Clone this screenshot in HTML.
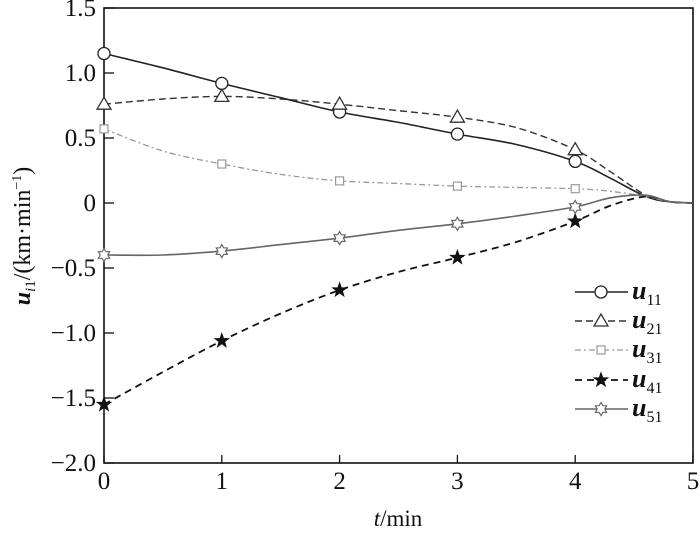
<!DOCTYPE html>
<html><head><meta charset="utf-8"><style>
body{margin:0;background:#fff}
svg text{font-family:"Liberation Serif","Times New Roman",serif;fill:#111}
</style></head><body>
<svg id="chart" width="700" height="532" xmlns="http://www.w3.org/2000/svg" font-family="Liberation Serif, serif"></svg>
<script>
const tSamples=[0,0.5,1,1.5,2,2.5,3,3.5,4,4.3,4.6,4.8,5];
const u11=[1.15,1.04,0.92,0.81,0.70,0.62,0.53,0.45,0.32,0.19,0.05,0.01,0];
const u21=[0.76,0.80,0.82,0.80,0.76,0.71,0.66,0.58,0.41,0.24,0.06,0.01,0];
const u31=[0.57,0.40,0.30,0.22,0.17,0.15,0.13,0.12,0.11,0.09,0.05,0.01,0];
const u41=[-1.55,-1.30,-1.06,-0.85,-0.67,-0.53,-0.42,-0.30,-0.14,-0.02,0.05,0.01,0];
const u51=[-0.40,-0.40,-0.37,-0.32,-0.27,-0.21,-0.16,-0.10,-0.03,0.04,0.06,0.01,0];
const xTicks=[0,1,2,3,4,5];
const yTicks=[1.5,1.0,0.5,0,-0.5,-1.0,-1.5,-2.0];
const yTickLabels=["1.5","1.0","0.5","0","\u22120.5","\u22121.0","\u22121.5","\u22122.0"];
const seriesNames=["11","21","31","41","51"];

const NS="http://www.w3.org/2000/svg";
const svg=document.getElementById('chart');
const X0=104,X1=693,Y0=8,Y1=463;
const FF='"Liberation Serif","Times New Roman",serif';
const x=t=>X0+(t-0)/(5-0)*(X1-X0);
const y=v=>Y0+(1.5-v)/(3.5)*(Y1-Y0);
function mk(tag,attrs,parent){const e=document.createElementNS(NS,tag);for(const k in attrs)e.setAttribute(k,attrs[k]);if(tag==='text')e.style.fontFamily=FF;(parent||svg).appendChild(e);return e;}

const frame=mk('rect',{x:X0,y:Y0,width:X1-X0,height:Y1-Y0,fill:'none',stroke:'#111','stroke-width':1.6});



xTicks.forEach(t=>{
  const l=mk('line',{x1:x(t),x2:x(t),y1:Y1,y2:Y1-8,stroke:'#111','stroke-width':1.3});
  
  
  const tx=mk('text',{x:x(t),y:Y1+26,'text-anchor':'middle','font-size':25});
  tx.textContent=t;
  
  
});
yTicks.forEach((v,i)=>{
  const l=mk('line',{x1:X0,x2:X0+10,y1:y(v),y2:y(v),stroke:'#111','stroke-width':1.3});
  
  
  const tx=mk('text',{x:X0-8,y:y(v)+8,'text-anchor':'end','font-size':25});
  tx.textContent=yTickLabels[i];
  
  
});

const xt=mk('text',{x:398,y:526,'text-anchor':'middle','font-size':23});
xt.innerHTML='<tspan font-style="italic">t</tspan>/min';


const yt=mk('text',{x:0,y:0,'text-anchor':'middle','font-size':24,transform:'translate(30,236) rotate(-90)'});
yt.innerHTML='<tspan font-style="italic" font-weight="bold">u</tspan><tspan font-style="italic" font-size="15" dy="5">i</tspan><tspan font-size="15">1</tspan><tspan dy="-5">/(km·min</tspan><tspan font-size="14" dy="-9">−1</tspan><tspan dy="9">)</tspan>';



function smoothPath(ts,vs){
  const p=ts.map((t,i)=>[x(t),y(vs[i])]);
  let d='M'+p[0][0]+','+p[0][1];
  for(let i=0;i<p.length-1;i++){
    const p0=p[Math.max(0,i-1)],p1=p[i],p2=p[i+1],p3=p[Math.min(p.length-1,i+2)];
    const c1=[p1[0]+(p2[0]-p0[0])/6,p1[1]+(p2[1]-p0[1])/6];
    const c2=[p2[0]-(p3[0]-p1[0])/6,p2[1]-(p3[1]-p1[1])/6];
    d+=` C${c1[0]},${c1[1]} ${c2[0]},${c2[1]} ${p2[0]},${p2[1]}`;
  }
  return d;
}
function star(cx,cy,r,ri,n){let pts=[];for(let i=0;i<2*n;i++){const a=-Math.PI/2+i*Math.PI/n;const rr=i%2?ri:r;pts.push((cx+rr*Math.cos(a)).toFixed(1)+','+(cy+rr*Math.sin(a)).toFixed(1));}return pts.join(' ');}
function marker(kind,cx,cy,g,color){
  if(kind==='circle')return mk('circle',{cx,cy,r:6,fill:'#fff',stroke:color,'stroke-width':1.3},g);
  if(kind==='tri')return mk('polygon',{points:`${cx},${cy-7} ${cx-7},${cy+5} ${cx+7},${cy+5}`,fill:'#fff',stroke:color,'stroke-width':1.3},g);
  if(kind==='sq')return mk('rect',{x:cx-4,y:cy-4,width:8,height:8,fill:'#fff',stroke:color,'stroke-width':1.2},g);
  if(kind==='star')return mk('polygon',{points:star(cx,cy,7.5,3,5),fill:'#111',stroke:'#111','stroke-width':0.8},g);
  if(kind==='hex')return mk('polygon',{points:star(cx,cy,6.5,3.8,6),fill:'#fff',stroke:color,'stroke-width':1.2},g);
}
const styles=[
 {vals:u11,color:'#222',dash:'',w:1.6,m:'circle'},
 {vals:u21,color:'#333',dash:'7,4',w:1.4,m:'tri'},
 {vals:u31,color:'#999',dash:'6,3,2,3',w:1.3,m:'sq'},
 {vals:u41,color:'#111',dash:'7,5',w:1.8,m:'star'},
 {vals:u51,color:'#666',dash:'',w:1.6,m:'hex'}
];
const legY=[292,321,350,380,409];
styles.forEach((s,k)=>{
  const g=mk('g',{});
  
  
  const path=mk('path',{d:smoothPath(tSamples,s.vals),fill:'none',stroke:s.color,'stroke-width':s.w,'stroke-dasharray':s.dash},g);
  
  
  tSamples.forEach((t,i)=>{
    if(Number.isInteger(t)&&t<=4){
      const m=marker(s.m,x(t),y(s.vals[i]),g,s.color);
      
      
    }
  });
  const lg=mk('g',{});
  
  
  mk('line',{x1:575,x2:628,y1:legY[k],y2:legY[k],stroke:s.color,'stroke-width':s.w,'stroke-dasharray':s.dash},lg);
  marker(s.m,601,legY[k],lg,s.color);
  const tx=mk('text',{x:632,y:legY[k]+7,'font-size':26},lg);
  tx.innerHTML='<tspan font-style="italic" font-weight="bold">u</tspan><tspan font-size="16" dy="6">'+seriesNames[k]+'</tspan>';
});
</script>
</body></html>
